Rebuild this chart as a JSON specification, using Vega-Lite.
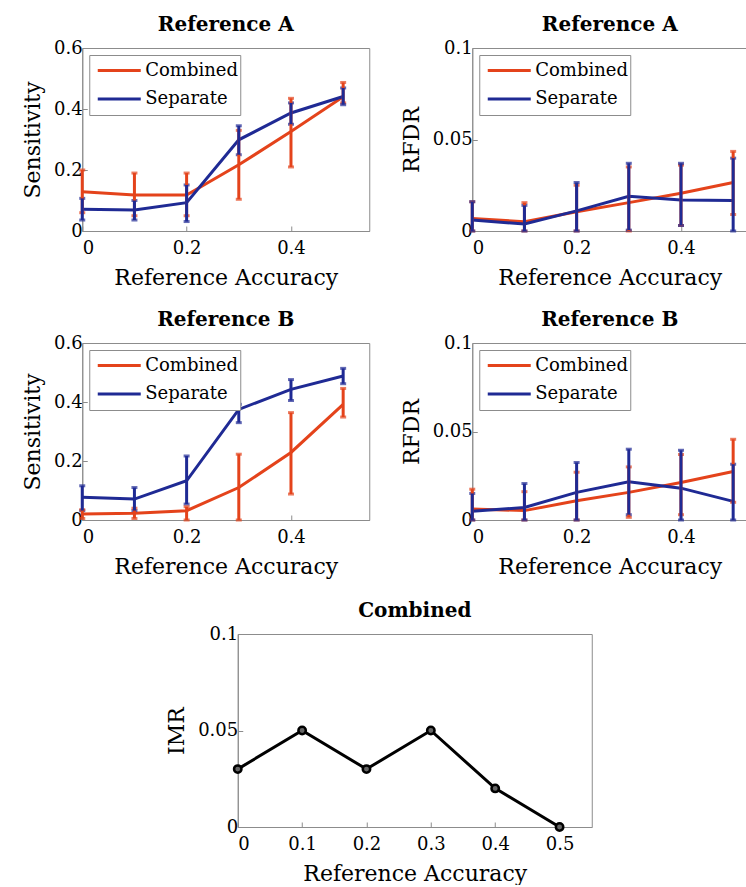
{
  "$schema": "https://vega.github.io/schema/vega-lite/v6.json",
  "padding": {"left": 21, "top": 14, "right": 0, "bottom": 0},
  "background": "white",
  "datasets": {
    "sensA": [
      {"acc": 0, "method": "Combined", "val": 0.129, "lo": 0.06, "hi": 0.2},
      {"acc": 0.1, "method": "Combined", "val": 0.118, "lo": 0.05, "hi": 0.19},
      {"acc": 0.2, "method": "Combined", "val": 0.118, "lo": 0.05, "hi": 0.19},
      {"acc": 0.3, "method": "Combined", "val": 0.217, "lo": 0.104, "hi": 0.33},
      {"acc": 0.4, "method": "Combined", "val": 0.326, "lo": 0.21, "hi": 0.435},
      {"acc": 0.5, "method": "Combined", "val": 0.44, "lo": 0.42, "hi": 0.487},
      {"acc": 0, "method": "Separate", "val": 0.071, "lo": 0.036, "hi": 0.107},
      {"acc": 0.1, "method": "Separate", "val": 0.069, "lo": 0.036, "hi": 0.1},
      {"acc": 0.2, "method": "Separate", "val": 0.093, "lo": 0.031, "hi": 0.151},
      {"acc": 0.3, "method": "Separate", "val": 0.299, "lo": 0.25, "hi": 0.345},
      {"acc": 0.4, "method": "Separate", "val": 0.387, "lo": 0.35, "hi": 0.42},
      {"acc": 0.5, "method": "Separate", "val": 0.441, "lo": 0.414, "hi": 0.469}
    ],
    "rfdrA": [
      {"acc": 0, "method": "Combined", "val": 0.0069, "lo": 0, "hi": 0.016},
      {"acc": 0.1, "method": "Combined", "val": 0.0051, "lo": 0, "hi": 0.0155},
      {"acc": 0.2, "method": "Combined", "val": 0.0105, "lo": 0, "hi": 0.025},
      {"acc": 0.3, "method": "Combined", "val": 0.0155, "lo": 0, "hi": 0.035},
      {"acc": 0.4, "method": "Combined", "val": 0.0206, "lo": 0.003, "hi": 0.036},
      {"acc": 0.5, "method": "Combined", "val": 0.0265, "lo": 0.009, "hi": 0.0435},
      {"acc": 0, "method": "Separate", "val": 0.006, "lo": 0, "hi": 0.016},
      {"acc": 0.1, "method": "Separate", "val": 0.0038, "lo": 0, "hi": 0.014},
      {"acc": 0.2, "method": "Separate", "val": 0.011, "lo": 0, "hi": 0.0265},
      {"acc": 0.3, "method": "Separate", "val": 0.019, "lo": 0.0005, "hi": 0.037},
      {"acc": 0.4, "method": "Separate", "val": 0.017, "lo": 0.003, "hi": 0.037},
      {"acc": 0.5, "method": "Separate", "val": 0.0166, "lo": 0, "hi": 0.0398}
    ],
    "sensB": [
      {"acc": 0, "method": "Combined", "val": 0.02, "lo": 0.005, "hi": 0.035},
      {"acc": 0.1, "method": "Combined", "val": 0.0225, "lo": 0.005, "hi": 0.04},
      {"acc": 0.2, "method": "Combined", "val": 0.0315, "lo": 0, "hi": 0.045},
      {"acc": 0.3, "method": "Combined", "val": 0.11, "lo": 0, "hi": 0.223},
      {"acc": 0.4, "method": "Combined", "val": 0.229, "lo": 0.088, "hi": 0.364},
      {"acc": 0.5, "method": "Combined", "val": 0.392, "lo": 0.349, "hi": 0.446},
      {"acc": 0, "method": "Separate", "val": 0.077, "lo": 0.032, "hi": 0.116},
      {"acc": 0.1, "method": "Separate", "val": 0.071, "lo": 0.032, "hi": 0.11},
      {"acc": 0.2, "method": "Separate", "val": 0.133, "lo": 0.054, "hi": 0.217},
      {"acc": 0.3, "method": "Separate", "val": 0.375, "lo": 0.33, "hi": 0.392},
      {"acc": 0.4, "method": "Separate", "val": 0.443, "lo": 0.405, "hi": 0.476},
      {"acc": 0.5, "method": "Separate", "val": 0.488, "lo": 0.462, "hi": 0.514}
    ],
    "rfdrB": [
      {"acc": 0, "method": "Combined", "val": 0.0062, "lo": 0, "hi": 0.0174},
      {"acc": 0.1, "method": "Combined", "val": 0.0053, "lo": 0, "hi": 0.016},
      {"acc": 0.2, "method": "Combined", "val": 0.0109, "lo": 0, "hi": 0.027},
      {"acc": 0.3, "method": "Combined", "val": 0.0156, "lo": 0.0015, "hi": 0.03},
      {"acc": 0.4, "method": "Combined", "val": 0.0212, "lo": 0.003, "hi": 0.037},
      {"acc": 0.5, "method": "Combined", "val": 0.0274, "lo": 0.01, "hi": 0.0456},
      {"acc": 0, "method": "Separate", "val": 0.0049, "lo": 0, "hi": 0.015},
      {"acc": 0.1, "method": "Separate", "val": 0.0071, "lo": 0, "hi": 0.0206},
      {"acc": 0.2, "method": "Separate", "val": 0.0156, "lo": 0, "hi": 0.0325},
      {"acc": 0.3, "method": "Separate", "val": 0.0216, "lo": 0.003, "hi": 0.04},
      {"acc": 0.4, "method": "Separate", "val": 0.018, "lo": 0, "hi": 0.0394},
      {"acc": 0.5, "method": "Separate", "val": 0.0105, "lo": 0, "hi": 0.0315}
    ],
    "imr": [
      {"acc": 0, "val": 0.03},
      {"acc": 0.1, "val": 0.05},
      {"acc": 0.2, "val": 0.03},
      {"acc": 0.3, "val": 0.05},
      {"acc": 0.4, "val": 0.02},
      {"acc": 0.5, "val": 0}
    ]
  },
  "vconcat": [
    {
      "vconcat": [
        {
          "hconcat": [
            {
              "title": "Reference A",
              "width": 287,
              "height": 183,
              "data": {"name": "sensA"},
              "encoding": {
                "x": {"field": "acc", "type": "quantitative", "title": "Reference Accuracy", "scale": {"domain": [0, 0.55], "nice": false}, "axis": {"values": [0, 0.2, 0.4], "format": "~g"}},
                "color": {"field": "method", "type": "nominal", "scale": {"domain": ["Combined", "Separate"], "range": ["#e4431b", "#1f2a94"]}, "legend": {"title": null}}
              },
              "layer": [
                {"mark": {"type": "line", "strokeWidth": 3}, "encoding": {"y": {"field": "val", "type": "quantitative", "title": "Sensitivity", "scale": {"domain": [0, 0.6], "nice": false}, "axis": {"values": [0, 0.2, 0.4, 0.6], "format": "~g"}}}},
                {"mark": {"type": "errorbar", "ticks": true, "thickness": 3, "size": 6}, "encoding": {"y": {"field": "lo", "type": "quantitative", "title": "Sensitivity"}, "y2": {"field": "hi"}}}
              ]
            },
            {
              "title": "Reference A",
              "width": 275,
              "height": 183,
              "data": {"name": "rfdrA"},
              "encoding": {
                "x": {"field": "acc", "type": "quantitative", "title": "Reference Accuracy", "scale": {"domain": [0, 0.527], "nice": false}, "axis": {"values": [0, 0.2, 0.4], "format": "~g"}},
                "color": {"field": "method", "type": "nominal", "scale": {"domain": ["Combined", "Separate"], "range": ["#e4431b", "#1f2a94"]}, "legend": {"title": null}}
              },
              "layer": [
                {"mark": {"type": "line", "strokeWidth": 3}, "encoding": {"y": {"field": "val", "type": "quantitative", "title": "RFDR", "scale": {"domain": [0, 0.1], "nice": false}, "axis": {"values": [0, 0.05, 0.1], "format": "~g"}}}},
                {"mark": {"type": "errorbar", "ticks": true, "thickness": 3, "size": 6}, "encoding": {"y": {"field": "lo", "type": "quantitative", "title": "RFDR"}, "y2": {"field": "hi"}}}
              ]
            }
          ],
          "spacing": 103,
          "bounds": "flush",
          "resolve": {"scale": {"color": "independent"}, "legend": {"color": "independent"}}
        },
        {
          "hconcat": [
            {
              "title": "Reference B",
              "width": 287,
              "height": 177,
              "data": {"name": "sensB"},
              "encoding": {
                "x": {"field": "acc", "type": "quantitative", "title": "Reference Accuracy", "scale": {"domain": [0, 0.55], "nice": false}, "axis": {"values": [0, 0.2, 0.4], "format": "~g"}},
                "color": {"field": "method", "type": "nominal", "scale": {"domain": ["Combined", "Separate"], "range": ["#e4431b", "#1f2a94"]}, "legend": {"title": null}}
              },
              "layer": [
                {"mark": {"type": "line", "strokeWidth": 3}, "encoding": {"y": {"field": "val", "type": "quantitative", "title": "Sensitivity", "scale": {"domain": [0, 0.6], "nice": false}, "axis": {"values": [0, 0.2, 0.4, 0.6], "format": "~g"}}}},
                {"mark": {"type": "errorbar", "ticks": true, "thickness": 3, "size": 6}, "encoding": {"y": {"field": "lo", "type": "quantitative", "title": "Sensitivity"}, "y2": {"field": "hi"}}}
              ]
            },
            {
              "title": "Reference B",
              "width": 275,
              "height": 177,
              "data": {"name": "rfdrB"},
              "encoding": {
                "x": {"field": "acc", "type": "quantitative", "title": "Reference Accuracy", "scale": {"domain": [0, 0.527], "nice": false}, "axis": {"values": [0, 0.2, 0.4], "format": "~g"}},
                "color": {"field": "method", "type": "nominal", "scale": {"domain": ["Combined", "Separate"], "range": ["#e4431b", "#1f2a94"]}, "legend": {"title": null}}
              },
              "layer": [
                {"mark": {"type": "line", "strokeWidth": 3}, "encoding": {"y": {"field": "val", "type": "quantitative", "title": "RFDR", "scale": {"domain": [0, 0.1], "nice": false}, "axis": {"values": [0, 0.05, 0.1], "format": "~g"}}}},
                {"mark": {"type": "errorbar", "ticks": true, "thickness": 3, "size": 6}, "encoding": {"y": {"field": "lo", "type": "quantitative", "title": "RFDR"}, "y2": {"field": "hi"}}}
              ]
            }
          ],
          "spacing": 103,
          "bounds": "flush",
          "resolve": {"scale": {"color": "independent"}, "legend": {"color": "independent"}}
        }
      ],
      "spacing": 20,
      "resolve": {"scale": {"color": "independent"}, "legend": {"color": "independent"}}
    },
    {
      "title": "Combined",
      "width": 354,
      "height": 193,
      "data": {"name": "imr"},
      "encoding": {
        "x": {"field": "acc", "type": "quantitative", "title": "Reference Accuracy", "scale": {"domain": [0, 0.55], "nice": false}, "axis": {"values": [0, 0.1, 0.2, 0.3, 0.4, 0.5], "format": "~g"}},
        "y": {"field": "val", "type": "quantitative", "title": "IMR", "scale": {"domain": [0, 0.1], "nice": false}, "axis": {"values": [0, 0.05, 0.1], "format": "~g"}}
      },
      "layer": [
        {"mark": {"type": "line", "color": "black", "strokeWidth": 3}},
        {"mark": {"type": "point", "filled": true, "fill": "#666666", "stroke": "black", "strokeWidth": 2.5, "size": 55, "opacity": 1}}
      ]
    }
  ],
  "spacing": 22,
  "center": true,
  "resolve": {"scale": {"color": "independent"}, "legend": {"color": "independent"}},
  "config": {
    "font": "DejaVu Serif",
    "view": {"stroke": "#8c8c8c", "strokeWidth": 1},
    "axis": {
      "grid": false,
      "domainColor": "#8c8c8c",
      "tickColor": "#8c8c8c",
      "tickSize": -5,
      "labelFont": "DejaVu Serif",
      "labelFontSize": 18,
      "labelColor": "black",
      "titleFont": "DejaVu Serif",
      "titleFontSize": 22,
      "titleFontWeight": "normal",
      "titleColor": "black"
    },
    "axisX": {"labelPadding": 13, "titlePadding": 10},
    "axisY": {"labelPadding": 5, "titlePadding": 9},
    "title": {"font": "DejaVu Serif", "fontSize": 20, "fontWeight": "bold", "color": "black", "offset": 4},
    "legend": {
      "orient": "top-left",
      "offset": 7,
      "symbolType": "stroke",
      "symbolSize": 1849,
      "symbolStrokeWidth": 3,
      "symbolOpacity": 1,
      "symbolOffset": 5,
      "clipHeight": 27,
      "labelFont": "DejaVu Serif",
      "labelFontSize": 18,
      "labelColor": "black",
      "labelOffset": 3,
      "strokeColor": "#8c8c8c",
      "fillColor": "white",
      "padding": 2,
      "rowPadding": 1.6
    }
  }
}
